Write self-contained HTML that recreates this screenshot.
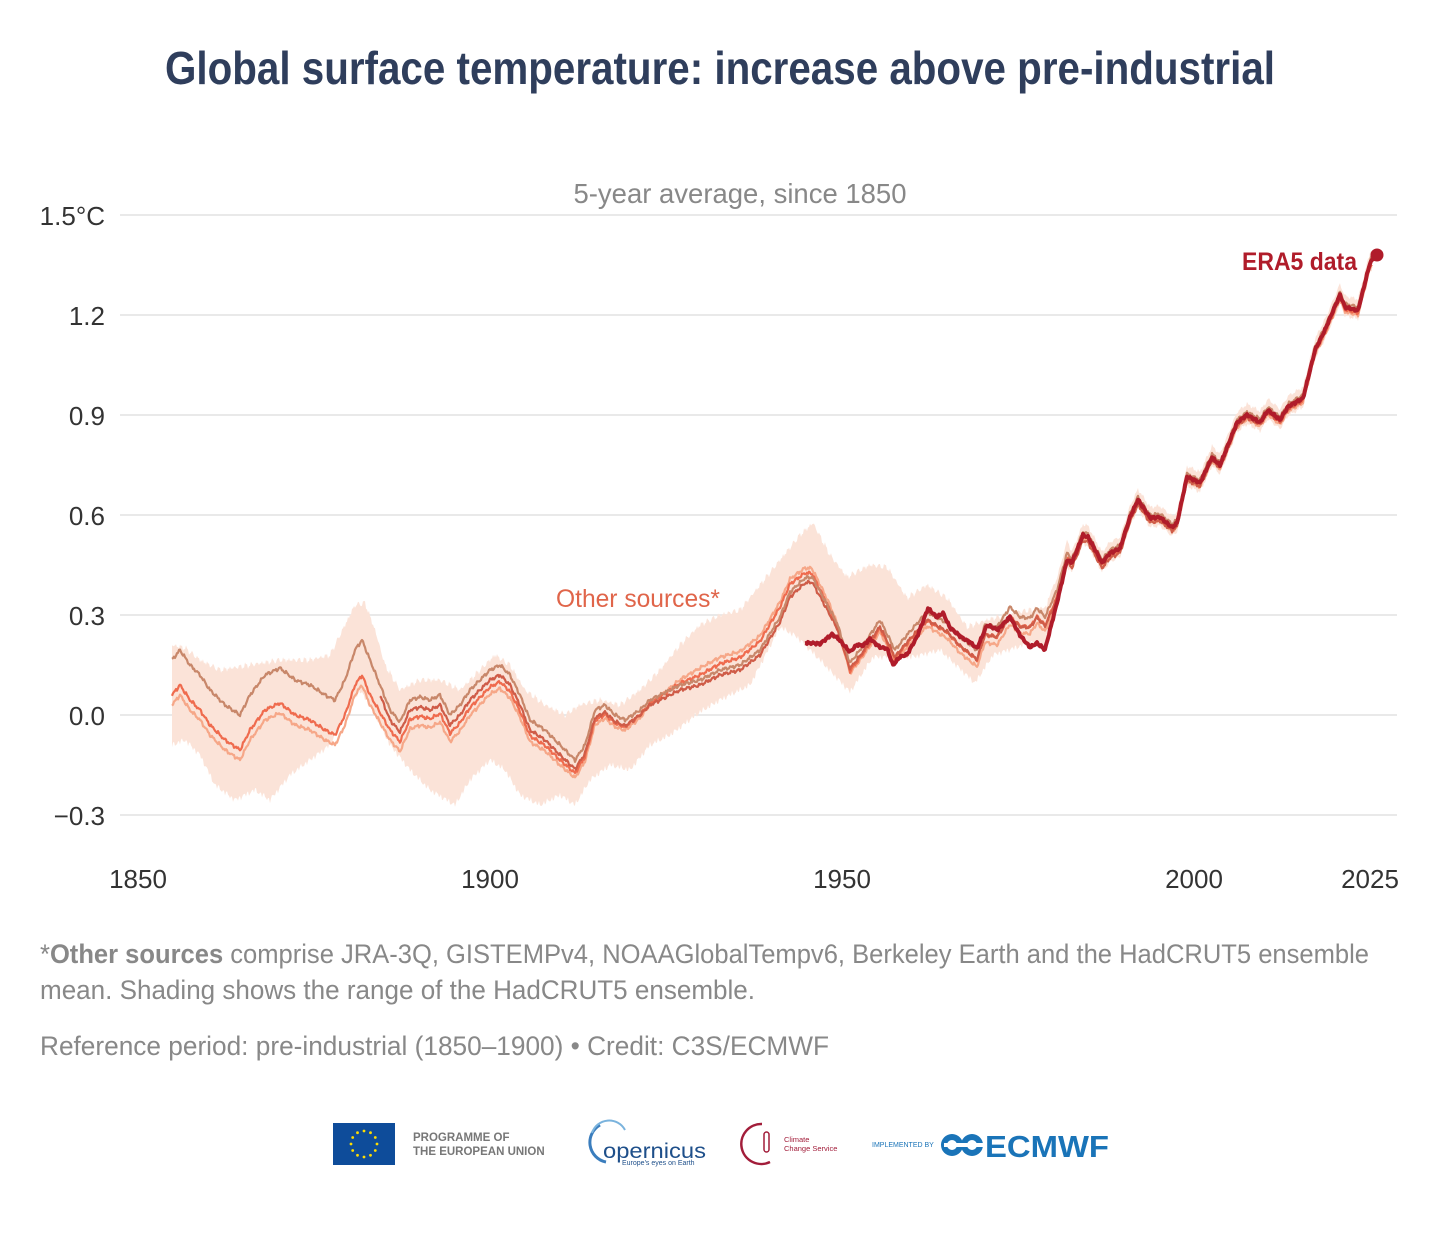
<!DOCTYPE html>
<html><head><meta charset="utf-8"><style>
html,body{margin:0;padding:0;background:#fff;}
svg{display:block;font-family:"Liberation Sans Narrow","Liberation Sans",sans-serif;}
</style></head><body>
<svg id="s" width="1440" height="1244" viewBox="0 0 1440 1244" xmlns="http://www.w3.org/2000/svg">
<rect width="1440" height="1244" fill="#fff"/>
<text x="720" y="84" text-anchor="middle" font-size="46" font-weight="bold" fill="#2f3e5c" textLength="1110" lengthAdjust="spacingAndGlyphs">Global surface temperature: increase above pre-industrial</text>
<text x="740" y="203" text-anchor="middle" font-size="28" fill="#888" textLength="333" lengthAdjust="spacingAndGlyphs">5-year average, since 1850</text>
<g stroke="#e2e2e2" stroke-width="1.5">
<line x1="120" x2="1397" y1="215" y2="215"/><line x1="120" x2="1397" y1="315" y2="315"/>
<line x1="120" x2="1397" y1="415" y2="415"/><line x1="120" x2="1397" y1="515" y2="515"/>
<line x1="120" x2="1397" y1="615" y2="615"/><line x1="120" x2="1397" y1="715" y2="715"/>
<line x1="120" x2="1397" y1="815" y2="815"/>
</g>
<g font-size="26" fill="#333" text-anchor="end">
<text x="105" y="225">1.5°C</text><text x="105" y="325">1.2</text><text x="105" y="425">0.9</text>
<text x="105" y="525">0.6</text><text x="105" y="625">0.3</text><text x="105" y="725">0.0</text>
<text x="105" y="825">−0.3</text>
</g>
<g font-size="26" fill="#333" text-anchor="middle">
<text x="138" y="888">1850</text><text x="490" y="888">1900</text><text x="842" y="888">1950</text>
<text x="1194" y="888">2000</text><text x="1370" y="888">2025</text>
</g>
<g id="chart"></g>
<text x="556" y="607" font-size="25" fill="#e0654a" textLength="164" lengthAdjust="spacingAndGlyphs">Other sources*</text>
<text x="1357" y="270" text-anchor="end" font-size="25" font-weight="bold" fill="#b01c2a" textLength="115" lengthAdjust="spacingAndGlyphs">ERA5 data</text>
<circle cx="1377" cy="255" r="6.5" fill="#b01c2a"/>
<g font-size="27" fill="#888">
<text x="40" y="963" textLength="1329" lengthAdjust="spacingAndGlyphs">*<tspan font-weight="bold">Other sources</tspan> comprise JRA-3Q, GISTEMPv4, NOAAGlobalTempv6, Berkeley Earth and the HadCRUT5 ensemble</text>
<text x="40" y="999" textLength="715" lengthAdjust="spacingAndGlyphs">mean. Shading shows the range of the HadCRUT5 ensemble.</text>
<text x="40" y="1055" textLength="789" lengthAdjust="spacingAndGlyphs">Reference period: pre-industrial (1850–1900) • Credit: C3S/ECMWF</text>
</g>
<!-- logos -->
<rect x="333" y="1123" width="62" height="42" fill="#0e4c9a"/>
<g fill="#ffdd00" id="stars"></g>
<g font-family="Liberation Sans,sans-serif" font-weight="bold" font-size="11.5" fill="#777">
<text x="413" y="1141">PROGRAMME OF</text><text x="413" y="1155">THE EUROPEAN UNION</text></g>
<path d="M600 1125 A20 20 0 0 0 606 1162" stroke="#3a7dbd" stroke-width="3" fill="none"/>
<path d="M592 1133 A18 18 0 0 1 625 1130" stroke="#7ab3dd" stroke-width="2" fill="none"/>
<text x="603" y="1158" font-family="Liberation Sans,sans-serif" font-size="21" fill="#1e4f8a" textLength="103" lengthAdjust="spacingAndGlyphs">opernicus</text>
<text x="622" y="1165" font-family="Liberation Sans,sans-serif" font-size="7" fill="#1e4f8a">Europe's eyes on Earth</text>
<path d="M762 1124 A20 20 0 1 0 770 1162" stroke="#a21d3a" stroke-width="2.5" fill="none"/>
<rect x="764" y="1132" width="5" height="20" rx="2.5" fill="none" stroke="#a21d3a" stroke-width="1.5"/>
<text x="784" y="1142" font-family="Liberation Sans,sans-serif" font-size="7.5" fill="#a21d3a">Climate</text>
<text x="784" y="1151" font-family="Liberation Sans,sans-serif" font-size="7.5" fill="#a21d3a">Change Service</text>
<text x="872" y="1147" font-family="Liberation Sans,sans-serif" font-size="7" fill="#1a74b8">IMPLEMENTED BY</text>
<g fill="#1a74b8"><circle cx="952" cy="1145" r="11"/><circle cx="972" cy="1145" r="11"/></g>
<g fill="#fff"><circle cx="952" cy="1145" r="5"/><circle cx="972" cy="1145" r="5"/><rect x="944" y="1143" width="40" height="4"/></g>
<text x="985" y="1157" font-family="Liberation Sans,sans-serif" font-weight="bold" font-size="31" fill="#1a74b8" textLength="124" lengthAdjust="spacingAndGlyphs">ECMWF</text>
</svg>
<script>
(function(){
var NS="http://www.w3.org/2000/svg";
function interp(a,x){if(x<=a[0][0])return a[0][1];for(var i=1;i<a.length;i++){if(x<=a[i][0]){var t=(x-a[i-1][0])/(a[i][0]-a[i-1][0]);return a[i-1][1]+t*(a[i][1]-a[i-1][1]);}}return a[a.length-1][1];}
var era=[[805,643],[820,644],[832,634],[838,638],[850,652],[857,645],[863,646],[870,639],[880,647],[887,648],[893,665],[900,657],[907,655],[917,637],[928,608],[937,617],[943,613],[950,628],[962,638],[970,642],[977,648],[987,625],[998,630],[1010,617],[1020,635],[1030,647],[1037,643],[1045,650],[1057,603],[1067,560],[1072,562],[1083,535],[1088,537],[1102,563],[1110,553],[1120,548],[1130,517],[1138,500],[1150,518],[1160,517],[1172,527],[1177,523],[1187,477],[1200,483],[1212,457],[1220,465],[1237,423],[1247,415],[1260,422],[1268,410],[1280,420],[1288,407],[1303,398],[1315,350],[1325,330],[1340,295],[1345,307],[1358,310],[1370,263],[1377,255]];
var brown=[[172,660],[180,650],[190,665],[200,675],[210,690],[225,705],[240,715],[250,695],[265,675],[280,668],[295,680],[310,685],[325,695],[335,700],[345,680],[355,650],[362,640],[370,660],[380,685],[390,710],[400,722],[410,700],[420,697],[430,700],[440,695],[450,715],[460,705],[470,690],[480,680],[490,670],[500,665],[510,675],[520,695],[530,720],[545,730],[555,740],[565,750],[575,760],[585,745],[595,710],[605,705],[615,715],[625,720],[640,710],[650,700],[660,695],[680,685],[700,680],[720,670],[740,665],[760,650],[780,617],[790,592],[805,578],[812,577],[823,597],[837,623],[850,663],[860,650],[880,620],[895,650],[907,635],[927,612],[947,623],[960,637],[977,650],[985,625],[997,627],[1010,607],[1020,617],[1030,618],[1037,608],[1045,617],[1057,590],[1067,553]];
for(var i=0;i<era.length;i++){if(era[i][0]>1067)brown.push([era[i][0],era[i][1]-3]);}
var top=[[172,645],[185,648],[200,660],[220,670],[250,665],[280,660],[310,660],[330,655],[345,625],[355,605],[365,603],[375,630],[385,665],[400,690],[420,680],[440,680],[460,690],[480,670],[495,655],[510,665],[525,690],[545,705],[565,715],[580,705],[600,700],[620,705],[640,690],[660,670],[680,645],[700,625],[720,615],[740,610],[760,585],[780,560],[800,535],[813,523],[830,555],[847,577],[870,565],[887,567],[907,598],[927,585],[947,598],[967,627],[987,620],[1013,613],[1047,607]];
var bot=[[172,745],[185,740],[200,755],[215,785],[235,800],[255,790],[270,800],[290,775],[310,760],[330,745],[345,715],[360,690],[375,715],[390,745],[410,770],[430,790],[455,805],[470,780],[490,760],[505,770],[520,795],[540,805],[560,795],[575,805],[590,780],[610,765],[630,770],[650,745],[670,735],[700,712],[720,700],[750,685],[780,627],[797,637],[820,660],[850,692],[873,657],[913,657],[940,650],[975,683],[993,655],[1030,643],[1047,647]];
function n(x){return 1.3*Math.sin(x*0.9)+0.9*Math.sin(x*2.3+1)+0.6*Math.sin(x*4.1);}
var g=document.getElementById("chart");
function path(d,stroke,w,fill){var p=document.createElementNS(NS,"path");p.setAttribute("d",d);p.setAttribute("fill",fill||"none");if(stroke){p.setAttribute("stroke",stroke);p.setAttribute("stroke-width",w);p.setAttribute("stroke-linejoin","round");}g.appendChild(p);}
// band
var up=[],dn=[];
for(var x=172;x<=1372;x+=1){
 var t,b;
 if(x<=1047){t=interp(top,x)+1.5*n(x*1.3);b=interp(bot,x)+1.5*n(x*1.7+3);}
 else{var bb=interp(brown,x);var w=x<1070?12:8;t=bb-w+n(x);b=bb+w+4+n(x+5);}
 up.push(x+","+t.toFixed(1));dn.push(x+","+b.toFixed(1));}
path("M"+up.join(" L")+" L"+dn.reverse().join(" L")+"Z",null,0,"#fbe3d8");
function line(offs,start,col,w,seed){var pts=[];for(var x=start;x<=1372;x+=1){var y=interp(brown,x)+(offs?interp(offs,x):0)+0.8*n(x*1.1+seed);pts.push(x+","+y.toFixed(1));}path("M"+pts.join(" L"),col,w);}
line([[172,45],[370,45],[390,30],[560,20],[640,8],[700,-12],[780,-15],[830,-5],[850,10],[1000,18],[1050,14],[1070,6],[1380,8]],172,"#f6a788",2.2,1);
line([[172,35],[370,35],[390,20],[560,15],[640,5],[700,-5],[780,-10],[830,0],[850,8],[1000,10],[1050,8],[1070,4],[1380,6]],172,"#ef6b4e",2.2,2);
line([[380,10],[560,10],[640,5],[760,5],[830,5],[1000,10],[1380,3]],380,"#cf5c48",2.2,3);
line(null,172,"#c8876a",2.2,4);
var ep=[];for(var x=805;x<=1377;x++){ep.push(x+","+(interp(era,x)+0.6*n(x*1.5)).toFixed(1));}
path("M"+ep.join(" L"),"#b01c2a",4);
var st=document.getElementById("stars");
for(var k=0;k<12;k++){var a=k*Math.PI/6;var c=document.createElementNS(NS,"circle");c.setAttribute("cx",(364+13*Math.cos(a)).toFixed(1));c.setAttribute("cy",(1144+13*Math.sin(a)).toFixed(1));c.setAttribute("r","1.4");st.appendChild(c);}
})();
</script>
</body></html>
